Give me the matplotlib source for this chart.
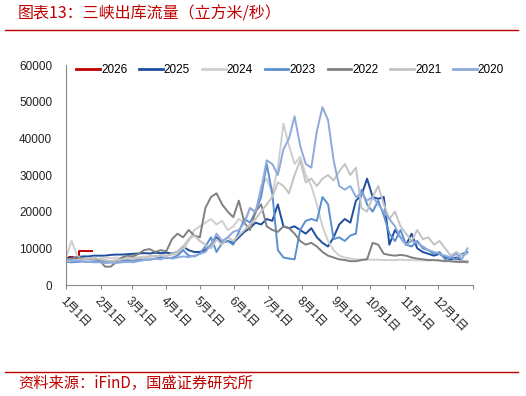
import matplotlib
matplotlib.use("Agg")
import matplotlib.pyplot as plt
from matplotlib.lines import Line2D

plt.rcParams['font.family'] = ['Liberation Sans', 'Noto Sans CJK SC', 'DejaVu Sans']

# ---- data (day of year, outflow m3/s) ----
days = list(range(0, 361, 5))

days_2026 = [0, 3, 6, 10, 12, 16, 20, 23]
v2026 = [7500, 7600, 7500, 7600, 9200, 9300, 9200, 9300]

v2025 = [7200, 7400, 7600, 7800, 7800, 8000, 8000,
         8000, 8200, 8300, 8300, 8400, 8500,
         8600, 8700, 8600, 8800, 8700, 8800,
         8600, 9000, 10500, 9500, 9000,
         9000, 9500, 11000, 13000, 11500, 12000, 11500,
         13000, 14500, 15500, 17000, 16500, 18000, 17500,
         22000, 16000, 15500, 16000, 15000, 14000, 15500,
         13000, 11500, 10500, 13000, 16500, 18000, 17000,
         23000, 24500, 29000, 24000, 23500, 24000, 11000,
         15000, 13000, 11000, 14000, 10000, 9000, 8500,
         8000, 8500, 7500, 7000, 7500, 6500, 6500]

v2024 = [7500, 12000, 8000, 7000, 7200, 7000, 7200,
         7500, 7300, 7500, 7200, 7400, 7600,
         7500, 7800, 7600, 8000, 7800, 8000,
         8200, 8500, 9500, 12000, 15000,
         16000, 17000, 18000, 16500, 17500, 15000, 16000,
         18000, 17000, 21000, 19500, 27000, 29000,
         25000, 32000, 44000, 38000, 33000, 35000,
         30000, 27000, 22000, 16000, 12000, 9500,
         8000, 7500, 7200, 7000, 7000, 7000, 6900, 6900, 6800, 6800, 6800, 6900,
         6800, 6800, 6700, 6700, 6700, 6800, 6600, 6600, 6500, 6500, 6500, 6500]

v2023 = [6300, 6200, 6300, 6400, 6300, 6500, 6500,
         6600, 6500, 6700, 6600, 6800, 6700,
         6800, 7000, 6900, 7200, 7500, 7300,
         7400, 8000, 9500, 8000, 7800,
         8500, 10500, 13000, 9000, 11500, 12000, 11000,
         14500, 18000, 17000, 20000, 24000, 33000, 25000,
         9500, 7500, 7200, 7000, 15000,
         17500, 18000, 17500, 24000, 22000, 12500,
         13000, 12000, 13500, 14000, 26000,
         22000, 20000, 23000, 19000,
         14000, 12000, 15000, 11000, 10500, 12000,
         10000, 9500, 8500, 9000, 7000, 7500, 7000, 8500, 9000]

v2022 = [7000, 7200, 7500, 7300, 7000, 7400, 6800,
         5000, 5000, 6200,
         7500, 8000, 7800,
         8500, 9500, 9800, 9000, 9500, 9200,
         12500, 14000, 13000, 15000, 13500,
         13000, 21000, 24000, 25000, 22000, 20000, 18500,
         23000, 17000, 15000, 20000, 22000, 16000,
         15000, 14500, 16000, 15500, 14000, 12000,
         11000, 11500, 10500, 9000, 8000,
         7500, 7000, 6800, 6500, 6500, 6800,
         7000, 11500, 11000, 8500,
         8200, 8000, 8200, 8000, 7500, 7200, 7000,
         6800, 6800, 6700, 6500, 6500, 6300, 6300, 6200]

v2021 = [6500, 6600, 6800, 7000, 7200, 7500, 7000,
         6800, 6500, 6700, 7000, 7200, 7000,
         7500, 7200, 8000, 7800, 8200, 8000,
         8500, 9000, 10500, 12500, 13500,
         12000, 11000, 10000, 12500, 11000, 13000, 12000,
         13500, 15000, 16500, 18000, 20000, 22000,
         24000, 28000, 27000, 25000, 30000, 34000,
         28000, 29000, 27000, 29000, 30000, 28500,
         31000, 33000, 30000, 32000, 21000,
         20000, 24000, 27000, 22000,
         18000, 20000, 16000, 14000, 12000, 15000, 12500,
         13000, 11000, 12000, 10000, 8000, 9000, 8000, 8500]

v2020 = [7000, 6800, 6600, 6500, 6300, 6200, 6200,
         6000, 6100, 6000, 6200, 6300, 6200,
         6500, 6800, 7000, 7200, 7000, 7500,
         7200, 7500, 7800, 7600, 8000,
         8500, 9000, 11000, 14000, 12000, 13000, 14500,
         15000, 17000, 21000, 20000, 26000, 34000,
         33000, 30000, 37000, 40000, 46000, 38000,
         33000, 32000, 42000, 48500, 45000, 34000,
         27000, 26000, 27000, 24000, 25000,
         23000, 24000, 22000, 20000,
         18000, 16000, 13000, 11000, 12000, 11500,
         10500, 9500, 9000, 8500, 8000, 7500, 8500, 7000, 10000]

month_days = [0, 31, 59, 90, 120, 151, 181, 212, 243, 273, 304, 334]
month_labels = ["1月1日", "2月1日", "3月1日", "4月1日", "5月1日", "6月1日",
                "7月1日", "8月1日", "9月1日", "10月1日", "11月1日", "12月1日"]

series = [
    ("2026", days_2026, v2026, "#C00000"),
    ("2025", days, v2025, "#1F4E9E"),
    ("2024", days, v2024, "#CFCFCF"),
    ("2023", days, v2023, "#5B8FD2"),
    ("2022", days, v2022, "#808080"),
    ("2021", days, v2021, "#C3C3C3"),
    ("2020", days, v2020, "#8EA9DB"),
]

fig = plt.figure(figsize=(5.26, 3.96), dpi=100)
ax = fig.add_axes([66/526, 1-285/396, 407/526, 220/396])

handles = []
for name, x, y, c in series:
    ax.plot(x, y, color=c, lw=1.4, label=name,
            drawstyle='steps-post' if name == "2026" else 'default')
    handles.append(Line2D([], [], color=c, lw=2, label=name))

ax.set_xlim(0, 365)
ax.set_ylim(0, 60000)
ax.set_yticks(range(0, 60001, 10000))
ax.set_yticklabels([str(v) for v in range(0, 60001, 10000)], fontsize=8.5, color="#222222")
ax.set_xticks(month_days + [365])
ax.set_xticklabels(month_labels + [""], rotation=-45, ha='left', va='top',
                   rotation_mode='anchor', fontsize=8.5, color="#222222")
for s in ['top', 'right']:
    ax.spines[s].set_visible(False)
for s in ['left', 'bottom']:
    ax.spines[s].set_color("#888888")
    ax.spines[s].set_linewidth(0.8)
ax.tick_params(axis='x', direction='out', length=3, color="#888888", pad=4)
ax.tick_params(axis='y', direction='out', length=0, pad=10)

leg = fig.legend(handles=handles, loc='center left', bbox_to_anchor=(68/526, 1-70/396),
                 ncol=7, frameon=True, fontsize=8.5, handlelength=2.0,
                 handletextpad=0.1, columnspacing=1.0, borderpad=0.2)
leg.get_frame().set_edgecolor('white')
leg.get_frame().set_facecolor('white')
leg.get_frame().set_alpha(1)

# title and source
red = "#C00000"
fig.text(18/526, 1-14/396, "图表13：三峡出库流量（立方米/秒）", color=red, fontsize=11.5,
         family=['Noto Sans CJK SC', 'DejaVu Sans'], style='italic', va='center', ha='left')
fig.add_artist(Line2D([5/526, 518/526], [1-30/396, 1-30/396], color=red, lw=1))
fig.add_artist(Line2D([5/526, 518/526], [1-372/396, 1-372/396], color=red, lw=1))
fig.text(18/526, 1-383/396, "资料来源：iFinD，国盛证券研究所", color=red, fontsize=11,
         family=['Noto Sans CJK SC', 'DejaVu Sans'], style='italic', va='center', ha='left')

fig.savefig("out.png", dpi=100)
